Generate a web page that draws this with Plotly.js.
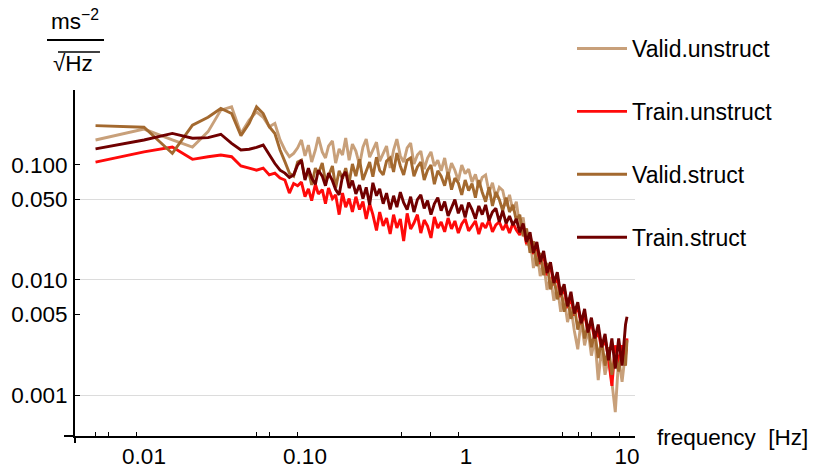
<!DOCTYPE html>
<html>
<head>
<meta charset="utf-8">
<script src="https://cdn.plot.ly/plotly-3.0.1.min.js"></script>
<style>html,body{margin:0;padding:0;background:#fff;}#chart{width:814px;height:470px;}</style>
</head>
<body>
<div id="chart"></div>
<script>
// frequency in Hz (shared by all series)
const freq = [0.005, 0.01, 0.015, 0.02, 0.025, 0.03, 0.035, 0.04, 0.045, 0.05, 0.055, 0.06, 0.065, 0.07, 0.075, 0.08, 0.085,
  0.09, 0.095, 0.1, 0.105, 0.11, 0.116, 0.121, 0.128, 0.134, 0.14, 0.148, 0.155, 0.163, 0.171, 0.179, 0.188, 0.197, 0.207, 0.218, 0.229,
  0.24, 0.252, 0.264, 0.278, 0.291, 0.306, 0.321, 0.338, 0.355, 0.372, 0.391, 0.41, 0.431, 0.453, 0.475, 0.499, 0.524, 0.55, 0.577, 0.606,
  0.636, 0.668, 0.701, 0.737, 0.774, 0.813, 0.853, 0.896, 0.941, 0.988, 1.038, 1.09, 1.144, 1.201, 1.261, 1.324, 1.39, 1.46, 1.533, 1.61,
  1.691, 1.775, 1.863, 1.957, 2.054, 2.158, 2.265, 2.378, 2.498, 2.623, 2.754, 2.891, 3.036, 3.188, 3.348, 3.515, 3.691, 3.875, 4.069, 4.273,
  4.486, 4.711, 4.946, 5.193, 5.453, 5.725, 6.011, 6.311, 6.627, 6.959, 7.306, 7.672, 8.055, 8.458, 8.881, 9.322, 9.792, 10.0];

const validUnstruct = [0.165, 0.205, 0.165, 0.143, 0.195, 0.30, 0.32, 0.188, 0.246, 0.29, 0.26, 0.215, 0.23, 0.165, 0.135, 0.118, 0.126,
  0.141, 0.165, 0.120, 0.149, 0.106, 0.135, 0.175, 0.130, 0.115, 0.146,
  0.162, 0.104, 0.138, 0.122, 0.172, 0.110, 0.152, 0.132, 0.100, 0.143,
  0.168, 0.117, 0.135, 0.158, 0.108, 0.127, 0.146, 0.094, 0.135, 0.168,
  0.120, 0.106, 0.141, 0.155, 0.102, 0.122, 0.132, 0.092, 0.115, 0.130,
  0.098, 0.110, 0.089, 0.115, 0.080, 0.104, 0.090, 0.073, 0.100, 0.084,
  0.092, 0.071, 0.083, 0.064, 0.078, 0.082, 0.058, 0.070, 0.052, 0.064,
  0.060, 0.044, 0.055, 0.040, 0.048, 0.029, 0.035, 0.020, 0.0236, 0.0127,
  0.0182, 0.0108, 0.0141, 0.0082, 0.0106, 0.0066, 0.0089, 0.0053, 0.0070, 0.0043,
  0.0058, 0.0036, 0.0025, 0.0045, 0.0027, 0.0037, 0.0022, 0.0031, 0.00135, 0.0026,
  0.0015, 0.0021, 0.0013, 0.00071, 0.0021, 0.0013, 0.0024, 0.0025];

const trainUnstruct = [0.106, 0.130, 0.143, 0.112, 0.118, 0.122, 0.118, 0.098, 0.094, 0.090, 0.094, 0.082, 0.085, 0.077, 0.074, 0.057, 0.069,
  0.066, 0.071, 0.053, 0.062, 0.049, 0.068, 0.056, 0.061, 0.046, 0.063,
  0.051, 0.055, 0.037, 0.057, 0.043, 0.051, 0.039, 0.053, 0.041, 0.048,
  0.034, 0.046, 0.037, 0.027, 0.039, 0.0295, 0.0346, 0.0251, 0.037, 0.0283,
  0.0339, 0.0218, 0.038, 0.0278, 0.0313, 0.037, 0.0256, 0.0332, 0.0295, 0.0232,
  0.0353, 0.0283, 0.032, 0.0262, 0.0346, 0.0278, 0.0326, 0.0256, 0.0307, 0.0339,
  0.0267, 0.0295, 0.0326, 0.0251, 0.0313, 0.0283, 0.0332, 0.0262, 0.0301, 0.032,
  0.0272, 0.0307, 0.0256, 0.0313, 0.0272, 0.0246, 0.029, 0.0206, 0.0246, 0.0168,
  0.020, 0.0138, 0.0165, 0.011, 0.0135, 0.0090, 0.0106, 0.0071, 0.0085, 0.0057,
  0.0071, 0.0049, 0.0059, 0.0041, 0.0051, 0.0035, 0.0043, 0.0030, 0.0036, 0.0025,
  0.0031, 0.0021, 0.0012, 0.0027, 0.0019, 0.0027, 0.0022, 0.0031];

const validStruct = [0.22, 0.213, 0.126, 0.222, 0.26, 0.31, 0.28, 0.18, 0.23, 0.32, 0.28, 0.215, 0.188, 0.135, 0.107, 0.085, 0.080,
  0.106, 0.110, 0.077, 0.090, 0.067, 0.094, 0.084, 0.104, 0.073, 0.080,
  0.098, 0.063, 0.089, 0.076, 0.094, 0.070, 0.102, 0.080, 0.112, 0.074,
  0.087, 0.106, 0.079, 0.117, 0.090, 0.082, 0.108, 0.115, 0.087, 0.127,
  0.098, 0.082, 0.110, 0.115, 0.080, 0.096, 0.106, 0.074, 0.090, 0.100,
  0.068, 0.089, 0.080, 0.066, 0.087, 0.061, 0.077, 0.070, 0.055, 0.074,
  0.060, 0.069, 0.052, 0.074, 0.058, 0.048, 0.064, 0.044, 0.058, 0.050,
  0.040, 0.052, 0.039, 0.045, 0.033, 0.037, 0.024, 0.028, 0.0172, 0.0218,
  0.0132, 0.0172, 0.0110, 0.0141, 0.0083, 0.0106, 0.0068, 0.0087, 0.0053, 0.0070,
  0.0046, 0.0059, 0.0037, 0.0049, 0.0031, 0.0041, 0.0026, 0.0035, 0.0021, 0.0030,
  0.0018, 0.0026, 0.0015, 0.0023, 0.0016, 0.0024, 0.0018, 0.0030];

const trainStruct = [0.138, 0.165, 0.188, 0.171, 0.173, 0.185, 0.154, 0.135, 0.137, 0.142, 0.149, 0.122, 0.103, 0.090, 0.085, 0.078, 0.082,
  0.100, 0.110, 0.074, 0.094, 0.077, 0.068, 0.090, 0.080, 0.066, 0.085,
  0.073, 0.061, 0.055, 0.080, 0.087, 0.063, 0.073, 0.056, 0.067, 0.051,
  0.064, 0.045, 0.070, 0.054, 0.062, 0.046, 0.057, 0.041, 0.054, 0.043,
  0.058, 0.047, 0.041, 0.053, 0.039, 0.050, 0.055, 0.042, 0.049, 0.037,
  0.046, 0.052, 0.040, 0.048, 0.036, 0.043, 0.050, 0.038, 0.045, 0.035,
  0.047, 0.041, 0.034, 0.044, 0.037, 0.045, 0.033, 0.039, 0.042, 0.032,
  0.040, 0.031, 0.036, 0.030, 0.034, 0.026, 0.031, 0.0214, 0.026, 0.0172,
  0.0214, 0.0143, 0.0179, 0.0115, 0.0143, 0.0094, 0.0117, 0.0074, 0.0092, 0.0059,
  0.0079, 0.0051, 0.0064, 0.0042, 0.0056, 0.0035, 0.0047, 0.0031, 0.0041, 0.0026,
  0.0034, 0.0020, 0.0031, 0.0017, 0.0031, 0.0018, 0.0041, 0.0048];

const seriesNames = ['Valid.unstruct', 'Train.unstruct', 'Valid.struct', 'Train.struct'];
const seriesValues = [validUnstruct, trainUnstruct, validStruct, trainStruct];
const seriesColors = ['#C8A07A', '#FF0A0A', '#A3692F', '#700000'];

const xTickVals = [0.01, 0.1, 1, 10];
const xTickText = ['0.01', '0.10', '1', '10'];
const xMinorTicks = [0.005, 0.006, 0.009, 0.05, 0.06, 0.09, 0.4, 0.6, 0.9, 4, 5, 6, 9];
const yTickVals = [0.001, 0.005, 0.01, 0.05, 0.1];
const yTickText = ['0.001', '0.005', '0.010', '0.050', '0.100'];
const yGridVals = [0.001, 0.01, 0.05];

const FONT = 'Liberation Sans, Arial, Helvetica, sans-serif';

const traces = seriesNames.map((name, i) => ({
  type: 'scatter', mode: 'lines', name: name, legendgroup: 'g' + i,
  x: freq, y: seriesValues[i],
  line: { color: seriesColors[i], width: 2.9 },
  hoverinfo: 'skip'
}));

const axisCommon = {
  type: 'log', showline: true, linecolor: '#000', linewidth: 2,
  ticks: 'inside', ticklen: 5, tickwidth: 1, tickcolor: '#000',
  zeroline: false, showgrid: false,
  tickfont: { family: FONT, size: 22.5, color: '#000' }
};

const layout = {
  width: 814, height: 470,
  margin: { l: 75, r: 179, t: 90, b: 34, pad: 0 },
  paper_bgcolor: '#fff', plot_bgcolor: '#fff',
  font: { family: FONT, size: 22.5, color: '#000' },
  showlegend: true,
  legend: {
    x: 0.8875, y: 1.182, xanchor: 'left', yanchor: 'top',
    bgcolor: 'rgba(0,0,0,0)', borderwidth: 0,
    itemwidth: 50, tracegroupgap: 30,
    font: { family: FONT, size: 23, color: '#000' }
  },
  xaxis: Object.assign({}, axisCommon, {
    range: [-2.4286, 1.0497], tickmode: 'array', tickvals: xTickVals, ticktext: xTickText,
    ticks: 'inside', ticklen: 0, ticklabelstandoff: -1,
    minor: { tickmode: 'array', tickvals: xMinorTicks, ticks: 'inside', ticklen: 4, tickwidth: 1, tickcolor: '#000', showgrid: false }
  }),
  yaxis: Object.assign({}, axisCommon, {
    range: [-3.3565, -0.348], tickmode: 'array', tickvals: yTickVals, ticktext: yTickText,
    ticklabelstandoff: 1,
    minor: { tickmode: 'array', tickvals: yGridVals, showgrid: true, gridcolor: '#dcdcdc', gridwidth: 1, ticks: '' }
  }),
  annotations: [
    { xref: 'paper', yref: 'paper', x: 1.0357, y: -0.003, xanchor: 'left', yanchor: 'middle',
      text: 'frequency\u00a0\u00a0[Hz]', showarrow: false, font: { family: FONT, size: 22.5, color: '#000' } },
    { xref: 'paper', yref: 'paper', x: 0, y: 1.202, xanchor: 'center', yanchor: 'middle',
      text: 'ms<sup>\u22122</sup>', showarrow: false, font: { family: FONT, size: 22.5, color: '#000' } },
    { xref: 'paper', yref: 'paper', x: -0.003, y: 1.078, xanchor: 'center', yanchor: 'middle',
      text: '\u221AHz', showarrow: false, font: { family: FONT, size: 22.5, color: '#000' } }
  ],
  shapes: [
    { type: 'line', xref: 'paper', yref: 'paper', x0: -0.05, x1: 0.0518, y0: 1.1445, y1: 1.1445, line: { color: '#000', width: 2 } },
    { type: 'line', xref: 'paper', yref: 'paper', x0: -0.0304, x1: 0.0446, y0: 1.1098, y1: 1.1098, line: { color: '#000', width: 1.5 } },
    { type: 'line', xref: 'paper', yref: 'paper', x0: -0.0196, x1: 0, y0: 0, y1: 0, line: { color: '#000', width: 2 } },
    { type: 'line', xref: 'paper', yref: 'paper', x0: 0, x1: 0, y0: 0, y1: -0.0202, line: { color: '#000', width: 2 } }
  ]
};

Plotly.newPlot('chart', traces, layout, { displayModeBar: false, staticPlot: true });
</script>
</body>
</html>
